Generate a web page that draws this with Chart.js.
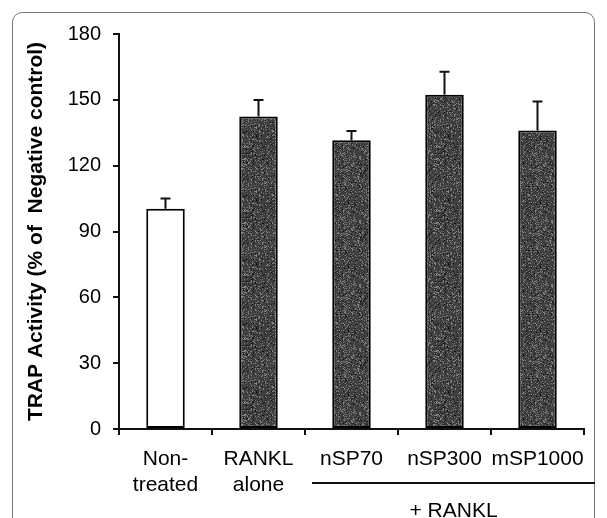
<!DOCTYPE html>
<html>
<head>
<meta charset="utf-8">
<script src="https://cdn.jsdelivr.net/npm/chart.js@4.4.1/dist/chart.umd.min.js"></script>
<style>
  html, body { margin: 0; padding: 0; background: #fff; overflow: hidden; }
  #wrap { position: relative; width: 607px; height: 518px; }
  #frame {
    position: absolute; left: 12px; top: 12px; width: 583px; height: 600px;
    border: 1.5px solid #777; border-radius: 10px; box-sizing: border-box;
  }
  #myChart { position: absolute; left: 0; top: 0; }
</style>
</head>
<body>
<div id="wrap">
  <div id="frame"></div>
  <canvas id="myChart" width="607" height="518"></canvas>
</div>
<script>
// data
var groups = [['Non-', 'treated'], ['RANKL', 'alone'], 'nSP70', 'nSP300', 'mSP1000'];
var trapValues = [100.4, 142.4, 131.6, 152.3, 136.0];
var trapErrors = [4.6, 7.5, 4.2, 10.5, 13.2];
var yTicks = [0, 30, 60, 90, 120, 150, 180];
var groupNote = '+ RANKL';

// speckled dark fill like the printed bars
function speckle() {
    var c = document.createElement('canvas');
    c.width = 64; c.height = 64;
    var g = c.getContext('2d');
    g.fillStyle = '#3e3e3e';
    g.fillRect(0, 0, 64, 64);
    var s = 12345;
    function next() { s = (s * 16807) % 2147483647; return s; }
    for (var i = 0; i < 1500; i++) {
        var px = next() % 64;
        var py = next() % 64;
        var k = next() % 4;
        g.fillStyle = k === 0 ? '#161616' : (k === 1 ? '#5a5a5a' : '#808080');
        g.fillRect(px, py, 1, 1);
    }
    return g.createPattern(c, 'repeat');
}
var dark = speckle();
var barFills = ['#ffffff', dark, dark, dark, dark];

var errorBars = {
    id: 'errorBars',
    afterDatasetsDraw: function (chart) {
        var ctx = chart.ctx;
        var y = chart.scales.y;
        var bars = chart.getDatasetMeta(0).data;
        ctx.save();
        ctx.strokeStyle = '#111';
        ctx.lineWidth = 2;
        bars.forEach(function (bar, i) {
            var top = y.getPixelForValue(trapValues[i] + trapErrors[i]);
            ctx.beginPath();
            ctx.moveTo(bar.x, bar.y);
            ctx.lineTo(bar.x, top);
            ctx.moveTo(bar.x - 5, top);
            ctx.lineTo(bar.x + 5, top);
            ctx.stroke();
        });
        ctx.restore();
    }
};

var rankNote = {
    id: 'rankNote',
    afterDraw: function (chart) {
        var ctx = chart.ctx;
        var x = chart.scales.x;
        var step = x.getPixelForValue(1) - x.getPixelForValue(0);
        var left = x.getPixelForValue(2) - step / 2 + 7;
        var right = chart.chartArea.right + 11;
        var lineY = x.top + 54;
        ctx.save();
        ctx.strokeStyle = '#111';
        ctx.lineWidth = 2;
        ctx.beginPath();
        ctx.moveTo(left, lineY);
        ctx.lineTo(right, lineY);
        ctx.stroke();
        ctx.fillStyle = '#000';
        ctx.font = '21px "Liberation Sans", Arial, sans-serif';
        ctx.textAlign = 'center';
        ctx.textBaseline = 'middle';
        ctx.fillText(groupNote, (left + right) / 2, lineY + 28);
        ctx.restore();
    }
};

new Chart('myChart', {
    type: 'bar',
    data: {
        labels: groups,
        datasets: [{
            data: trapValues,
            backgroundColor: barFills,
            borderColor: '#000',
            borderWidth: 2,
            borderSkipped: false,
            categoryPercentage: 1,
            barPercentage: 0.414
        }]
    },
    options: {
        responsive: false,
        devicePixelRatio: 1,
        animation: false,
        events: [],
        layout: { padding: { left: 0, right: 23, top: 34, bottom: 0 } },
        plugins: {
            legend: { display: false },
            tooltip: { enabled: false }
        },
        scales: {
            x: {
                offset: true,
                grid: { offset: true, drawOnChartArea: false, drawTicks: true, tickLength: 6, color: '#111', lineWidth: 2 },
                border: { color: '#111', width: 2 },
                ticks: {
                    color: '#000',
                    font: { family: '"Liberation Sans", Arial, sans-serif', size: 21 },
                    padding: 12,
                    maxRotation: 0,
                    autoSkip: false
                },
                afterFit: function (s) { s.height = 89; }
            },
            y: {
                min: 0,
                max: 180,
                afterBuildTicks: function (s) { s.ticks = yTicks.map(function (v) { return { value: v }; }); },
                grid: { drawOnChartArea: false, drawTicks: true, tickLength: 6, color: '#111', lineWidth: 2 },
                border: { color: '#111', width: 2 },
                ticks: {
                    color: '#000',
                    font: { family: '"Liberation Sans", Arial, sans-serif', size: 20 },
                    padding: 12
                },
                title: {
                    display: true,
                    text: 'TRAP Activity (% of  Negative control)',
                    color: '#000',
                    font: { family: '"Liberation Sans", Arial, sans-serif', size: 21, weight: 'bold' },
                    padding: { top: 24, bottom: 0 }
                },
                afterFit: function (s) { s.width = 119; }
            }
        }
    },
    plugins: [errorBars, rankNote]
});
</script>
</body>
</html>
